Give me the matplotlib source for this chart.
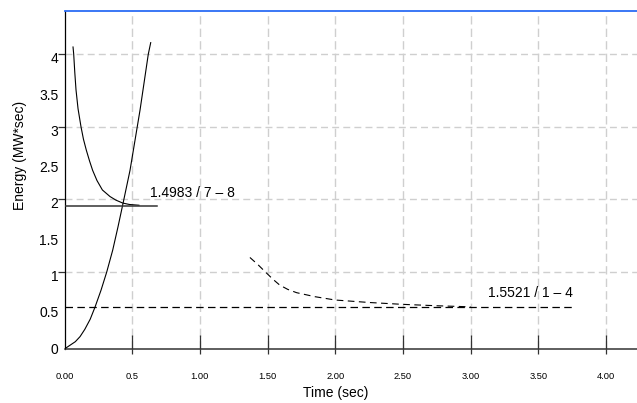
import matplotlib
matplotlib.use("Agg")
import matplotlib.pyplot as plt
import matplotlib.transforms as mtransforms
from matplotlib.ticker import FixedLocator

plt.rcParams['font.family'] = ['Liberation Sans', 'DejaVu Sans']

# Data
rise_t = [0.0, 0.04, 0.08, 0.115, 0.15, 0.19, 0.225, 0.27, 0.312, 0.356, 0.395, 0.433, 0.484, 0.558, 0.619, 0.637]
rise_e = [-0.06, -0.01, 0.04, 0.11, 0.21, 0.35, 0.514, 0.75, 1.0, 1.30, 1.62, 1.95, 2.40, 3.23, 4.0, 4.16]

fall_t = [0.063, 0.068, 0.076, 0.085, 0.1, 0.122, 0.14, 0.161, 0.185, 0.208, 0.24, 0.28, 0.336, 0.38, 0.43, 0.48, 0.55]
fall_e = [4.10, 4.0, 3.75, 3.51, 3.25, 3.0, 2.83, 2.68, 2.53, 2.40, 2.26, 2.13, 2.04, 1.99, 1.95, 1.93, 1.92]

steady1_t = [0.0, 0.68]
steady1_e = [1.913, 1.913]

decay_t = [1.37, 1.43, 1.49, 1.54, 1.59, 1.65, 1.715, 1.85, 2.0, 2.25, 2.49, 2.75, 3.0]
decay_e = [1.20, 1.10, 0.99, 0.90, 0.82, 0.76, 0.715, 0.66, 0.614, 0.58, 0.555, 0.535, 0.52]

steady2_t = [0.0, 3.76]
steady2_e = [0.514, 0.514]

label1 = "1.4983 / 7 \u2013 8"
label1_pos = (0.63, 2.04)
label2 = "1.5521 / 1 \u2013 4"
label2_pos = (3.13, 0.66)

xticks = [0.0, 0.5, 1.0, 1.5, 2.0, 2.5, 3.0, 3.5, 4.0]
xticklabels = ["0.00", "0.5", "1.00", "1.50", "2.00", "2.50", "3.00", "3.50", "4.00"]
xtickmarks = [0.5, 1.0, 1.5, 2.0, 2.5, 3.0, 3.5, 4.0]
yticks = [0, 0.5, 1, 1.5, 2, 2.5, 3, 3.5, 4]
yticklabels = ["0", "0.5", "1", "1.5", "2", "2.5", "3", "3.5", "4"]
ygrid = [1, 2, 3, 4]

fig = plt.figure(figsize=(6.37, 4.03), dpi=100)
ax = fig.add_axes([64.5 / 637, 1 - 349.3 / 403, 1 - 64.5 / 637, (349.3 - 10.7) / 403])
ax.set_xlim(0, 4.23)
ax.set_ylim(-0.065, 4.6)

# grid
gridkw = dict(color='#cfcfcf', lw=1.0, zorder=0)
for x in xtickmarks:
    ax.axvline(x, dashes=(6, 3), **gridkw)
for y in ygrid:
    ax.axhline(y, dashes=(5, 3), **gridkw)

# data
ax.plot(rise_t, rise_e, color='black', lw=0.8, zorder=3)
ax.plot(fall_t, fall_e, color='black', lw=0.8, zorder=3)
ax.plot(steady1_t, steady1_e, color='#333333', lw=1.1, zorder=3)
l1, = ax.plot(decay_t, decay_e, color='black', lw=0.8, zorder=3)
l1.set_dashes((6, 4))
l2, = ax.plot(steady2_t, steady2_e, color='black', lw=0.9, zorder=3)
l2.set_dashes((6, 3.5))

ax.text(label1_pos[0], label1_pos[1], label1, fontsize=10, va='baseline', ha='left')
ax.text(label2_pos[0], label2_pos[1], label2, fontsize=10, va='baseline', ha='left')

# spines
ax.spines['right'].set_visible(False)
ax.spines['top'].set_color('#2b6cf5')
ax.spines['top'].set_linewidth(1.3)
ax.spines['left'].set_color('black')
ax.spines['left'].set_linewidth(0.9)
ax.spines['bottom'].set_color('#333333')
ax.spines['bottom'].set_linewidth(1.1)

# x ticks
ax.xaxis.remove_overlapping_locs = False
ax.set_xticks(xticks)
ax.set_xticklabels(xticklabels)
ax.xaxis.set_minor_locator(FixedLocator(xtickmarks))
ax.tick_params(axis='x', which='major', direction='in', length=10, width=0.9,
               color='#333333', labelsize=6.7, pad=16.5)
ax.tick_params(axis='x', which='minor', direction='out', length=3.6, width=0.9,
               color='#333333')
ax.xaxis.get_major_ticks()[0].tick1line.set_visible(False)

# y ticks
ax.yaxis.remove_overlapping_locs = False
ax.set_yticks(yticks)
ax.set_yticklabels(yticklabels)
ax.yaxis.set_minor_locator(FixedLocator(ygrid))
ax.tick_params(axis='y', which='major', length=0, labelsize=10, pad=4.5)
ax.tick_params(axis='y', which='minor', direction='out', length=5, width=0.9, color='#333333')
offset = mtransforms.ScaledTranslation(0, -3.5 / 100, fig.dpi_scale_trans)
for lab in ax.get_yticklabels():
    lab.set_transform(lab.get_transform() + offset)

ax.set_xlabel("Time (sec)", fontsize=10)
ax.set_ylabel("Energy (MW*sec)", fontsize=10)
ax.xaxis.set_label_coords(0.474, -0.108)
ax.yaxis.set_label_coords(-0.066, 0.574)

fig.savefig("out.png", dpi=100)
